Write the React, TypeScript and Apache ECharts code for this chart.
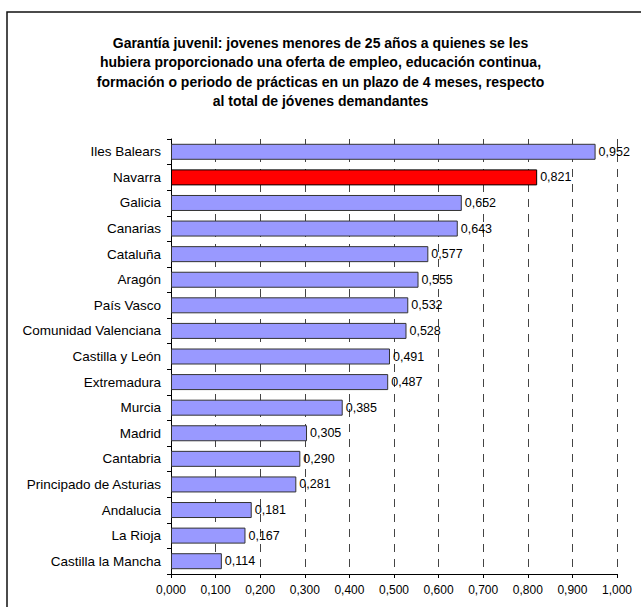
import React, { useEffect, useRef } from "react";
import * as echarts from "echarts";

const titleText =
  "Garantía juvenil: jovenes menores de 25 años a quienes se les\nhubiera proporcionado una oferta de empleo, educación continua,\nformación o periodo de prácticas en un plazo de 4 meses, respecto\nal total de jóvenes demandantes";

const categories = [
  "Iles Balears",
  "Navarra",
  "Galicia",
  "Canarias",
  "Cataluña",
  "Aragón",
  "País Vasco",
  "Comunidad Valenciana",
  "Castilla y León",
  "Extremadura",
  "Murcia",
  "Madrid",
  "Cantabria",
  "Principado de Asturias",
  "Andalucia",
  "La Rioja",
  "Castilla la Mancha",
];

const values = [
  0.952, 0.821, 0.652, 0.643, 0.577, 0.555, 0.532, 0.528, 0.491, 0.487, 0.385,
  0.305, 0.29, 0.281, 0.181, 0.167, 0.114,
];

const highlighted = "Navarra";

const FONT = '"Liberation Sans", Arial, Helvetica, sans-serif';

const fmt = (v: number) => v.toFixed(3).replace(".", ",");

export default function App() {
  const ref = useRef<HTMLDivElement>(null);

  useEffect(() => {
    document.body.style.margin = "0";
    if (!ref.current) return;
    const chart = echarts.init(ref.current, undefined, { renderer: "svg" });
    chart.setOption({
      animation: false,
      backgroundColor: "#ffffff",
      textStyle: { fontFamily: FONT },
      graphic: [
        {
          type: "rect",
          shape: { x: 7, y: 12, width: 700, height: 700 },
          style: { fill: "none", stroke: "#111", lineWidth: 1.5 },
          silent: true,
        },
        {
          type: "text",
          x: 320.5,
          y: 33,
          silent: true,
          style: {
            text: titleText,
            fontFamily: FONT,
            fontSize: 14,
            fontWeight: "bold",
            fill: "#000",
            lineHeight: 19.5,
            align: "center",
            verticalAlign: "top",
          },
        },
      ],
      grid: { left: 171, right: 24, top: 139, bottom: 33 },
      xAxis: {
        type: "value",
        min: 0,
        max: 1,
        interval: 0.1,
        axisLine: { show: true, lineStyle: { color: "#000", width: 1 } },
        axisTick: { show: true, length: 4, lineStyle: { color: "#000" } },
        axisLabel: {
          formatter: (v: number) => fmt(v),
          fontFamily: FONT,
          fontSize: 12,
          color: "#000",
          margin: 10,
        },
        splitLine: {
          show: true,
          lineStyle: { color: "#444", type: [8, 7], width: 1 },
        },
      },
      yAxis: {
        type: "category",
        data: categories,
        inverse: true,
        axisLine: { show: true, lineStyle: { color: "#000", width: 1 } },
        axisTick: { show: true, length: 4, interval: 0, lineStyle: { color: "#000" } },
        axisLabel: {
          fontFamily: FONT,
          fontSize: 13.5,
          color: "#000",
          margin: 10,
        },
        splitLine: { show: false },
      },
      series: [
        {
          type: "bar",
          barWidth: 16,
          data: values.map((v, i) => ({
            value: v,
            itemStyle:
              categories[i] === highlighted
                ? { color: "#FF0000", borderColor: "#000", borderWidth: 1 }
                : { color: "#9999FF", borderColor: "#333", borderWidth: 1 },
          })),
          label: {
            show: true,
            position: "right",
            distance: 3,
            formatter: (p: any) => fmt(p.value),
            fontFamily: FONT,
            fontSize: 12.5,
            color: "#000",
          },
        },
      ],
    });
    return () => chart.dispose();
  }, []);

  return <div ref={ref} style={{ width: 641, height: 607 }} />;
}
